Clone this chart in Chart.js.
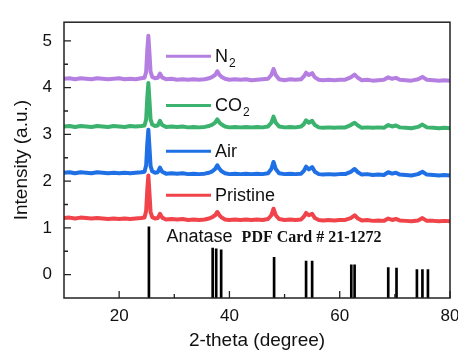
<!DOCTYPE html>
<html>
<head>
<meta charset="utf-8">
<script src="https://cdn.jsdelivr.net/npm/chart.js@4.4.0/dist/chart.umd.min.js"></script>
<style>
  html, body { margin: 0; padding: 0; background: #fff; }
</style>
</head>
<body>
<canvas id="xrd" width="458" height="354"></canvas>
<script>
// ── Data ─────────────────────────────────────────────────────────────────
const twoTheta = [10, 11, 12, 13, 14, 15, 16, 17, 18, 19, 20, 21, 22, 23, 24,
  24.6, 24.9, 25.1, 25.3, 25.5, 25.7, 26.0, 26.5, 27.0, 27.4, 27.8, 28.5, 29.5,
  30.5, 31.5, 32.5, 33.5, 34.5, 35.5, 36.3, 36.9, 37.4, 37.8, 38.2, 38.6, 39.2,
  40, 41, 42, 43, 44, 45, 46, 47, 47.6, 48.0, 48.4, 49, 50, 51, 52, 53, 53.5,
  53.9, 54.4, 55.0, 55.5, 56.2, 57, 58, 59, 60, 61, 62.0, 62.7, 63.3, 64, 65,
  66, 67, 68, 68.8, 69.5, 70.2, 70.9, 72, 73, 74.2, 75.0, 75.8, 77, 78, 79, 80];

const n2 = [4.19, 4.20, 4.18, 4.20, 4.19, 4.18, 4.20, 4.19, 4.18, 4.19, 4.20, 4.18, 4.19, 4.18, 4.20,
  4.21, 4.34, 4.80, 5.11, 4.74, 4.34, 4.23, 4.20, 4.21, 4.30, 4.22, 4.18, 4.19,
  4.17, 4.18, 4.17, 4.18, 4.17, 4.18, 4.20, 4.23, 4.27, 4.35, 4.27, 4.23, 4.19,
  4.17, 4.18, 4.17, 4.18, 4.16, 4.17, 4.18, 4.19, 4.27, 4.40, 4.27, 4.18, 4.16, 4.18, 4.17, 4.18, 4.24,
  4.32, 4.27, 4.31, 4.22, 4.17, 4.16, 4.17, 4.16, 4.17, 4.17, 4.22, 4.28, 4.21, 4.16, 4.17,
  4.15, 4.16, 4.17, 4.22, 4.19, 4.21, 4.17, 4.16, 4.15, 4.18, 4.23, 4.17, 4.16, 4.15, 4.16, 4.15];

const co2 = [3.17, 3.18, 3.16, 3.18, 3.17, 3.16, 3.18, 3.17, 3.16, 3.18, 3.17, 3.16, 3.18, 3.17, 3.18,
  3.19, 3.32, 3.78, 4.10, 3.72, 3.32, 3.21, 3.18, 3.19, 3.29, 3.20, 3.16, 3.17,
  3.16, 3.17, 3.15, 3.16, 3.15, 3.16, 3.18, 3.21, 3.25, 3.32, 3.25, 3.21, 3.17,
  3.15, 3.16, 3.15, 3.16, 3.15, 3.16, 3.15, 3.17, 3.25, 3.38, 3.25, 3.17, 3.15, 3.16, 3.15, 3.17, 3.22,
  3.30, 3.25, 3.29, 3.20, 3.15, 3.14, 3.15, 3.14, 3.15, 3.15, 3.20, 3.25, 3.19, 3.14, 3.15,
  3.14, 3.15, 3.14, 3.20, 3.17, 3.19, 3.15, 3.14, 3.13, 3.16, 3.21, 3.15, 3.14, 3.13, 3.14, 3.13];

const air = [2.18, 2.19, 2.17, 2.19, 2.18, 2.17, 2.19, 2.18, 2.17, 2.18, 2.17, 2.18, 2.17, 2.18, 2.19,
  2.20, 2.34, 2.79, 3.10, 2.72, 2.32, 2.21, 2.18, 2.19, 2.29, 2.20, 2.16, 2.17,
  2.16, 2.17, 2.15, 2.16, 2.15, 2.16, 2.18, 2.21, 2.26, 2.34, 2.26, 2.21, 2.17,
  2.15, 2.16, 2.15, 2.16, 2.15, 2.16, 2.15, 2.17, 2.26, 2.41, 2.26, 2.17, 2.15, 2.16, 2.15, 2.16, 2.22,
  2.31, 2.25, 2.30, 2.20, 2.15, 2.14, 2.15, 2.14, 2.15, 2.15, 2.20, 2.26, 2.19, 2.14, 2.15,
  2.13, 2.14, 2.13, 2.19, 2.16, 2.18, 2.14, 2.13, 2.12, 2.15, 2.20, 2.14, 2.13, 2.12, 2.13, 2.12];

const pristine = [1.21, 1.22, 1.20, 1.22, 1.21, 1.20, 1.21, 1.20, 1.19, 1.20, 1.19, 1.20, 1.19, 1.20, 1.21,
  1.22, 1.36, 1.81, 2.12, 1.74, 1.34, 1.23, 1.20, 1.21, 1.30, 1.22, 1.18, 1.19,
  1.18, 1.19, 1.17, 1.18, 1.17, 1.18, 1.20, 1.23, 1.27, 1.34, 1.27, 1.22, 1.18,
  1.17, 1.18, 1.17, 1.18, 1.17, 1.18, 1.17, 1.19, 1.27, 1.41, 1.27, 1.19, 1.17, 1.18, 1.17, 1.18, 1.24,
  1.32, 1.27, 1.30, 1.21, 1.17, 1.16, 1.17, 1.16, 1.17, 1.17, 1.21, 1.27, 1.20, 1.16, 1.17,
  1.15, 1.16, 1.15, 1.20, 1.17, 1.19, 1.16, 1.15, 1.14, 1.16, 1.21, 1.15, 1.15, 1.14, 1.15, 1.14];

// Anatase reference card (PDF 21-1272): stick positions and heights
const cardPos = [25.4, 36.96, 37.6, 38.5, 48.1, 53.9, 55.0, 62.1, 62.7, 68.8, 70.3, 74.0, 75.0, 76.0];
const cardInt = [1.02, 0.57, 0.55, 0.53, 0.37, 0.29, 0.29, 0.21, 0.21, 0.15, 0.14, 0.11, 0.11, 0.11];

const seriesNames = ['N2', 'CO2', 'Air', 'Pristine'];
const seriesColors = ['#b57fe2', '#3bb26e', '#1f6fe5', '#f0434a'];
const legendY = [4.67, 3.62, 2.64, 1.70];

const xTicks = [20, 40, 60, 80];
const xMinor = [30, 50, 70];
const yTicks = [0, 1, 2, 3, 4, 5];
const yMinor = [0.5, 1.5, 2.5, 3.5, 4.5];

// ── Helpers ──────────────────────────────────────────────────────────────
const FONT = '"Liberation Sans", Arial, sans-serif';
const toPts = ys => twoTheta.map((x, i) => ({ x: x, y: ys[i] }));

// label with trailing "2" drawn as a subscript
function drawLabel(ctx, text, x, y) {
    const sub = /2$/.test(text);
    const main = sub ? text.slice(0, -1) : text;
    ctx.font = '18px ' + FONT;
    ctx.fillText(main, x, y);
    if (sub) {
        const w = ctx.measureText(main).width;
        ctx.font = '12px ' + FONT;
        ctx.fillText('2', x + w + 1, y + 6);
    }
}

// ── Plugins ──────────────────────────────────────────────────────────────
const frameTicks = {
    id: 'frameTicks',
    afterDraw(chart) {
        const { ctx, chartArea: a, scales: { x, y } } = chart;
        ctx.save();
        ctx.strokeStyle = '#222';
        ctx.lineWidth = 1.3;
        ctx.beginPath();
        xTicks.forEach(v => { const p = x.getPixelForValue(v); ctx.moveTo(p, a.bottom); ctx.lineTo(p, a.bottom - 7); });
        xMinor.forEach(v => { const p = x.getPixelForValue(v); ctx.moveTo(p, a.bottom); ctx.lineTo(p, a.bottom - 4); });
        yTicks.forEach(v => { const p = y.getPixelForValue(v); ctx.moveTo(a.left, p); ctx.lineTo(a.left + 7, p); });
        yMinor.forEach(v => { const p = y.getPixelForValue(v); ctx.moveTo(a.left, p); ctx.lineTo(a.left + 4, p); });
        ctx.stroke();
        ctx.lineWidth = 1.5;
        ctx.strokeRect(a.left, a.top, a.right - a.left, a.bottom - a.top);
        ctx.restore();
    }
};

const labels = {
    id: 'labels',
    afterDatasetsDraw(chart) {
        const { ctx, scales: { x, y } } = chart;
        ctx.save();
        ctx.textBaseline = 'middle';
        ctx.fillStyle = '#111';
        const x0 = x.getPixelForValue(28.5), x1 = x.getPixelForValue(36.66);
        seriesNames.forEach((name, i) => {
            const py = y.getPixelForValue(legendY[i]);
            ctx.strokeStyle = seriesColors[i];
            ctx.lineWidth = 3;
            ctx.beginPath();
            ctx.moveTo(x0, py);
            ctx.lineTo(x1, py);
            ctx.stroke();
            drawLabel(ctx, name, x1 + 4, py + 1);
        });

        const ax = x.getPixelForValue(28.6), ay = y.getPixelForValue(0.80);
        ctx.font = '18px ' + FONT;
        ctx.fillText('Anatase', ax, ay);
        const w = ctx.measureText('Anatase').width;
        ctx.font = 'bold 16px "Liberation Serif", "Times New Roman", serif';
        ctx.fillText('PDF Card # 21-1272', ax + w + 9, ay + 1);
        ctx.restore();
    }
};

// ── Chart ────────────────────────────────────────────────────────────────
const lineSets = [n2, co2, air, pristine].map((ys, i) => ({
    type: 'line',
    label: seriesNames[i],
    data: toPts(ys),
    borderColor: seriesColors[i],
    borderWidth: 4,
    borderJoinStyle: 'round',
    pointRadius: 0,
    tension: 0,
    fill: false,
    order: i + 1
}));

const cardSet = {
    type: 'bar',
    label: 'PDF 21-1272',
    data: cardPos.map((p, i) => ({ x: p, y: [-0.5, cardInt[i]] })),
    backgroundColor: '#000',
    barThickness: 2,
    grouped: false,
    order: 10
};

new Chart(document.getElementById('xrd'), {
    type: 'line',
    data: { datasets: [...lineSets, cardSet] },
    options: {
        responsive: false,
        animation: false,
        devicePixelRatio: 1,
        layout: { padding: { top: 14, right: 8, left: 0, bottom: 0 } },
        plugins: { legend: { display: false }, tooltip: { enabled: false } },
        scales: {
            x: {
                type: 'linear',
                min: 10,
                max: 80,
                offset: false,
                grid: { display: false, drawTicks: false },
                border: { display: false },
                afterBuildTicks: s => { s.ticks = xTicks.map(v => ({ value: v })); },
                afterFit: s => { s.height = 56; s.paddingLeft = 0; s.paddingRight = 0; },
                ticks: { color: '#111', padding: 8, maxRotation: 0, font: { family: FONT, size: 17 } },
                title: {
                    display: true,
                    text: '2-theta (degree)',
                    color: '#111',
                    padding: { top: 0, bottom: 2 },
                    font: { family: FONT, size: 19 }
                }
            },
            y: {
                min: -0.5,
                max: 5.4,
                grid: { display: false, drawTicks: false },
                border: { display: false },
                afterBuildTicks: s => { s.ticks = yTicks.map(v => ({ value: v })); },
                afterFit: s => { s.width = 64; },
                ticks: { color: '#111', padding: 12, font: { family: FONT, size: 17 } },
                title: {
                    display: true,
                    text: 'Intensity (a.u.)',
                    color: '#111',
                    padding: { top: 10, bottom: 0 },
                    font: { family: FONT, size: 19 }
                }
            }
        }
    },
    plugins: [frameTicks, labels]
});
</script>
</body>
</html>
